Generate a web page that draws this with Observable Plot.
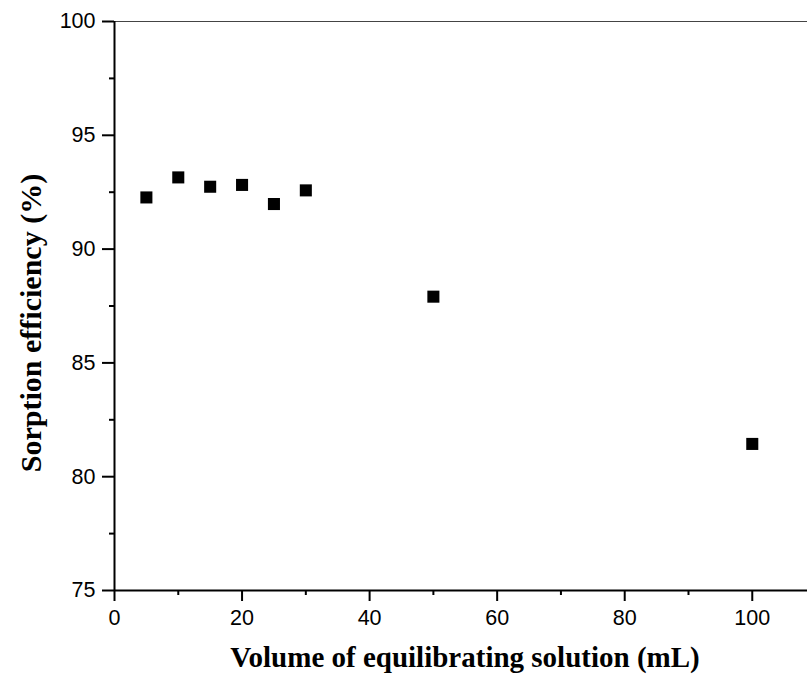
<!DOCTYPE html>
<html>
<head>
<meta charset="utf-8">
<script src="https://cdn.jsdelivr.net/npm/d3@7"></script>
<script src="https://cdn.jsdelivr.net/npm/@observablehq/plot@0.6"></script>
<style>
  html, body { margin: 0; padding: 0; background: #fff; }
  #chart svg { display: block; }
</style>
</head>
<body>
<div id="chart"></div>
<script>
const volume = [5, 10, 15, 20, 25, 30, 50, 100];
const efficiency = [92.27, 93.15, 92.74, 92.82, 91.98, 92.58, 87.91, 81.44];
const xMajorTicks = [0, 20, 40, 60, 80, 100];
const xMinorTicks = [10, 30, 50, 70, 90];
const yMajorTicks = [75, 80, 85, 90, 95, 100];
const yMinorTicks = [77.5, 82.5, 87.5, 92.5, 97.5];
const xTitle = "Volume of equilibrating solution (mL)";
const yTitle = "Sorption efficiency (%)";

const data = volume.map((v, i) => ({volume: v, efficiency: efficiency[i]}));

const tickFont = "Liberation Sans, Arial, sans-serif";
const titleFont = "Liberation Serif, Times New Roman, serif";

const chart = Plot.plot({
  width: 807,
  height: 683,
  marginLeft: 114,
  marginRight: 0,
  marginTop: 21,
  marginBottom: 93,
  style: {background: "#fff", color: "#000", fontFamily: tickFont},
  x: {domain: [0, 108.66]},
  y: {domain: [75, 100]},
  marks: [
    Plot.ruleY([100], {stroke: "#444", strokeWidth: 1.2}),
    Plot.axisX(xMajorTicks, {tickSize: 11, tickPadding: 8, strokeWidth: 2, fontSize: 21.5, label: null, fontFamily: tickFont}),
    Plot.axisX(xMinorTicks, {tickSize: 5, strokeWidth: 2, tickFormat: () => "", label: null}),
    Plot.axisY(yMajorTicks, {tickSize: 12, tickPadding: 7, strokeWidth: 2, fontSize: 21.5, label: null, fontFamily: tickFont}),
    Plot.axisY(yMinorTicks, {tickSize: 5, strokeWidth: 2, tickFormat: () => "", label: null}),
    Plot.ruleX([0], {stroke: "#000", strokeWidth: 2}),
    Plot.ruleY([75], {stroke: "#000", strokeWidth: 2}),
    Plot.dot(data, {x: "volume", y: "efficiency", symbol: "square", r: 6.8, fill: "#000", stroke: null})
  ]
});

const svg = d3.select(chart);
svg.append("text")
  .attr("x", 465).attr("y", 667)
  .attr("text-anchor", "middle")
  .attr("font-family", titleFont).attr("font-weight", "bold").attr("font-size", 29)
  .attr("fill", "#000")
  .text(xTitle);
svg.append("text")
  .attr("transform", "translate(41,323) rotate(-90)")
  .attr("text-anchor", "middle")
  .attr("font-family", titleFont).attr("font-weight", "bold").attr("font-size", 30)
  .attr("fill", "#000")
  .text(yTitle);

document.getElementById("chart").appendChild(chart);
</script>
</body>
</html>
